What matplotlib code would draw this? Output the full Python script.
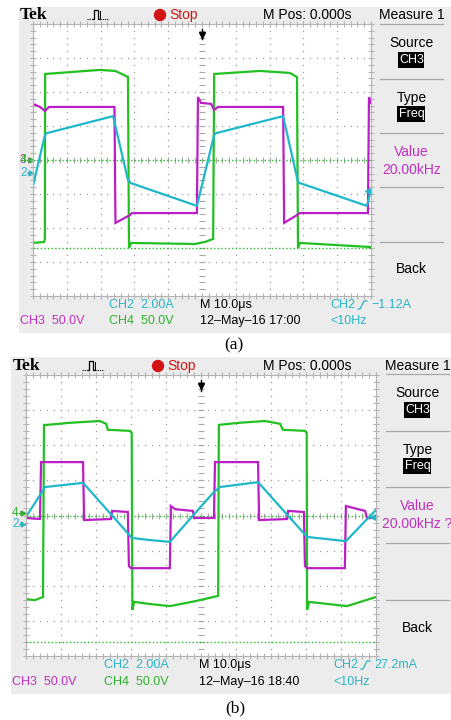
import matplotlib
matplotlib.use("Agg")
import matplotlib.pyplot as plt
from matplotlib.patches import Rectangle, Circle

W, H = 452, 720

# horizontal: time in us (10 us/div), vertical: divisions from screen centre
# ---- screen (a) ----
t_ch4_a = [0, 3.3, 3.5, 3.6, 19.8, 24.3, 26.3, 28.1, 28.4, 29.0, 47.9, 50.9, 53.3, 53.6, 67.2, 76.0, 78.1, 78.4, 79.0, 100]
v_ch4_a = [-2.44, -2.41, -2.32, 2.53, 2.65, 2.62, 2.53, 2.44, -2.59, -2.44, -2.47, -2.41, -2.32, 2.53, 2.62, 2.56, 2.44, -2.59, -2.44, -2.56]

t_ch3_a = [0, 2.1, 3.55, 4.7, 23.7, 24.1, 24.4, 28.7, 29.3, 48.5, 48.8, 49.7, 52.7, 53.6, 54.7, 74.0, 74.3, 78.1, 79.0, 99.1, 99.4, 100]
v_ch3_a = [1.65, 1.56, 1.44, 1.56, 1.56, 1.56, -1.85, -1.62, -1.56, -1.56, 1.85, 1.68, 1.65, 1.47, 1.56, 1.56, -1.85, -1.62, -1.56, -1.56, 1.85, 1.68]

t_ch2_a = [0, 3.55, 4.1, 23.7, 28.1, 29.0, 48.5, 53.6, 54.2, 74.0, 78.4, 79.0, 98.8, 100]
v_ch2_a = [-0.76, 0.74, 0.79, 1.29, -0.59, -0.68, -1.35, 0.74, 0.79, 1.29, -0.65, -0.68, -1.35, -0.88]

ref_a = [0, -2.59]
trig_a = -0.91

# ---- screen (b) ----
t_ch4_b = [0, 2.57, 4.86, 5.14, 6.0, 12.6, 21.1, 22.9, 23.4, 29.7, 30.2, 30.4, 30.9, 35.4, 41.1, 48.3, 54.9, 55.1, 61.0, 68.3, 72.6, 73.4, 79.7, 80.2, 80.3, 80.9, 91.7, 100]
v_ch4_b = [-2.38, -2.41, -2.32, 2.58, 2.58, 2.64, 2.69, 2.61, 2.44, 2.41, 2.35, -2.69, -2.46, -2.52, -2.58, -2.44, -2.29, 2.58, 2.64, 2.69, 2.61, 2.44, 2.41, 2.35, -2.69, -2.46, -2.58, -2.32]

t_ch3_b = [0, 4.0, 4.3, 16.3, 16.6, 24.3, 24.6, 29.1, 29.4, 30.0, 41.1, 41.4, 42.6, 47.7, 48.0, 53.7, 54.0, 66.3, 66.6, 74.6, 74.9, 79.4, 79.7, 80.3, 91.1, 91.4, 96.9, 97.4, 100]
v_ch3_b = [-0.07, -0.10, 1.52, 1.52, -0.13, -0.10, 0.13, 0.10, -1.44, -1.50, -1.50, 0.27, 0.18, 0.13, -0.07, -0.07, 1.52, 1.52, -0.13, -0.10, 0.13, 0.10, -1.44, -1.50, -1.50, 0.27, 0.13, -0.07, -0.07]

t_ch2_b = [0, 4.57, 5.43, 16.3, 30.3, 35.4, 41.1, 53.4, 55.4, 66.3, 80.3, 91.4, 100]
v_ch2_b = [-0.04, 0.67, 0.81, 0.93, -0.64, -0.70, -0.75, 0.64, 0.81, 0.95, -0.61, -0.73, 0.16]

ref_b = [0, -3.6]
trig_b = -0.05

GREEN = "#22c022"
MAGENTA = "#bb1ec6"
CYAN = "#1fb8c8"
T_GREEN = "#30b030"
T_MAGENTA = "#c030c0"
T_CYAN = "#2ab4c8"
PANEL = "#ececec"
NARROW = ["Liberation Sans Narrow", "Liberation Sans", "DejaVu Sans"]

fig = plt.figure(figsize=(W / 100, H / 100), dpi=100)
bg = fig.add_axes([0, 0, 1, 1])
bg.set_xlim(0, W)
bg.set_ylim(H, 0)
bg.axis("off")


def frac(x0, y0, x1, y1):
    return [x0 / W, 1 - y1 / H, (x1 - x0) / W, (y1 - y0) / H]


def txt(x, y, s, color="black", size=9, ha="left", **kw):
    kw.setdefault("family", NARROW)
    bg.text(x, y, s, color=color, fontsize=size, ha=ha, va="center", **kw)


def screen(s, t4, v4, t3, v3, t2, v2, refs, trig):
    px0, py0, px1, py1 = s["panel"]
    bg.add_patch(Rectangle((px0, py0), px1 - px0, py1 - py0, color=PANEL, lw=0))

    # top bar
    ty = s["top"]
    txt(s["tek"], ty, "Tek", size=12.5, family=["Liberation Serif"], weight="bold")
    ix = s["icon"]
    bg.plot([ix, ix + 6], [ty + 4, ty + 4], color="black", lw=0.8, ls=(0, (1, 1)))
    bg.plot([ix + 6, ix + 7, ix + 7, ix + 11, ix + 11, ix + 12],
            [ty + 4, ty + 4, ty - 5, ty - 5, ty + 4, ty + 4], color="black", lw=0.9)
    bg.plot([ix + 13, ix + 13], [ty - 4, ty + 4], color="black", lw=0.7)
    bg.plot([ix + 13, ix + 22], [ty + 4, ty + 4], color="black", lw=0.8, ls=(0, (1, 1)))
    bg.add_patch(Circle((s["dot"], ty), 5.5, color="#d41414"))
    txt(s["dot"] + 9, ty, "Stop", color="#d41414", size=10)
    txt(s["mpos"], ty, "M Pos: 0.000s", size=10)

    # side menu
    mx0, mx1 = s["menu"]
    mc = (mx0 + mx1) / 2
    for y in s["seps"]:
        bg.plot([mx0, mx1], [y, y], color="#a8a8a8", lw=0.9)
    txt(mc, ty, "Measure 1", size=10, ha="center")
    txt(mc, s["source"], "Source", size=10, ha="center")
    txt(mc, s["type"], "Type", size=10, ha="center")
    for y, label, w in [(s["source"] + 17, "CH3", 26), (s["type"] + 16, "Freq", 28)]:
        bg.add_patch(Rectangle((mc - w / 2, y - 8), w, 16, color="black", lw=0))
        txt(mc, y, label, color="white", size=9, ha="center")
    txt(mc, s["value"], "Value", color=T_MAGENTA, size=10, ha="center")
    txt(mc, s["value"] + 18, s["freq"], color=T_MAGENTA, size=10, ha="center")
    txt(mc, s["back"], "Back", size=10, ha="center")

    # readouts
    r1, r2 = s["rows"]
    c0, c1, c2, c3 = s["cols"]
    txt(c1, r1, "CH2  2.00A", color=T_CYAN)
    txt(c0, r2, "CH3  50.0V", color=T_MAGENTA)
    txt(c1, r2, "CH4  50.0V", color=T_GREEN)
    txt(c2, r1, "M 10.0\u03bcs")
    txt(c2, r2, s["date"])
    txt(c3, r1, "CH2", color=T_CYAN)
    ex = c3 + 28
    bg.plot([ex, ex + 2, ex + 6, ex + 9], [r1 + 4, r1 + 4, r1 - 4, r1 - 4], color=T_CYAN, lw=0.9)
    txt(ex + 13, r1, s["trig"], color=T_CYAN)
    txt(c3, r2, "<10Hz", color=T_CYAN)

    # channel ground markers
    mk = s["mark_x"]
    for y, label, col in s["marks"]:
        txt(mk, y, label, color=col, size=8.5)
        bg.plot([mk + 7, mk + 11], [y, y], color=col, lw=0.9)
        bg.plot(mk + 11, y, marker=">", ms=3.5, color=col)

    txt(s["cap_x"], s["cap_y"], s["cap"], size=12.5, ha="center", family=["Liberation Serif"])

    # graticule
    ax = fig.add_axes(frac(*s["grat"]))
    ax.set_xlim(0, 100)
    ax.set_ylim(-4, 4)
    ax.set_facecolor("white")
    ax.set_xticks([])
    ax.set_yticks([])
    for sp in ax.spines.values():
        sp.set_color("#b4b4b4")
        sp.set_linewidth(0.8)

    fine_y = [k * 0.2 - 4 for k in range(41)]
    fine_x = [k * 2 for k in range(51)]
    for t in range(10, 100, 10):
        if t != 50:
            ax.plot([t] * len(fine_y), fine_y, ls="none", marker="s", ms=0.9, mew=0, color="#9c9c9c")
    for v in range(-3, 4):
        if v != 0:
            ax.plot(fine_x, [v] * len(fine_x), ls="none", marker="s", ms=0.9, mew=0, color="#9c9c9c")
    ax.plot([50] * len(fine_y), fine_y, ls="none", marker="_", ms=4, mew=0.8, color="#a8a8a8")
    ax.plot(fine_x, [0] * len(fine_x), ls="none", marker="|", ms=4, mew=0.8, color="#a8a8a8")
    ax.plot(fine_x, [4] * len(fine_x), ls="none", marker="|", ms=4, mew=0.8, color="#b4b4b4", clip_on=False)
    ax.plot(fine_x, [-4] * len(fine_x), ls="none", marker="|", ms=4, mew=0.8, color="#b4b4b4", clip_on=False)
    ax.plot([0] * len(fine_y), fine_y, ls="none", marker="_", ms=4, mew=0.8, color="#b4b4b4", clip_on=False)
    ax.plot([100] * len(fine_y), fine_y, ls="none", marker="_", ms=4, mew=0.8, color="#b4b4b4", clip_on=False)

    for r in refs:
        ax.plot([0, 100], [r, r], color=GREEN, lw=1.0, ls=(0, (1, 1.6)))

    ax.plot(t4, v4, color=GREEN, lw=1.6, solid_joinstyle="miter")
    ax.plot(t3, v3, color=MAGENTA, lw=1.6, solid_joinstyle="miter")
    ax.plot(t2, v2, color=CYAN, lw=1.6)

    ax.plot(99.2, trig, marker="<", ms=5, color=CYAN, clip_on=False)
    ax.plot([50, 50], [3.85, 3.55], color="black", lw=1.0)
    ax.plot(50, 3.68, marker="v", ms=5, color="black")


screen(dict(panel=(19, 7, 452, 333), grat=(33, 24, 371, 296), top=15, tek=20, icon=87,
            dot=160, mpos=263, menu=(380, 443), seps=[24, 79, 133, 187, 242],
            source=43, type=98, value=152, back=269, freq="20.00kHz",
            rows=(305, 321), cols=(20, 109, 200, 330), date="12\u2013May\u201316 17:00",
            trig="\u22121.12A", mark_x=20,
            marks=[(160, "3", T_MAGENTA), (160, "4", T_GREEN), (173, "2", T_CYAN)],
            cap="(a)", cap_x=234, cap_y=345),
       t_ch4_a, v_ch4_a, t_ch3_a, v_ch3_a, t_ch2_a, v_ch2_a, ref_a, trig_a)

screen(dict(panel=(11, 357, 452, 694), grat=(26, 375, 376, 656), top=366, tek=13, icon=82,
            dot=158, mpos=263, menu=(386, 449), seps=[374, 431, 487, 543, 600],
            source=393, type=450, value=506, back=628, freq="20.00kHz ?",
            rows=(665, 682), cols=(12, 104, 199, 333), date="12\u2013May\u201316 18:40",
            trig="27.2mA", mark_x=12,
            marks=[(513, "4", T_GREEN), (524, "2", T_CYAN)],
            cap="(b)", cap_x=235, cap_y=708),
       t_ch4_b, v_ch4_b, t_ch3_b, v_ch3_b, t_ch2_b, v_ch2_b, ref_b, trig_b)

fig.savefig("out.png", dpi=100, facecolor="white")
